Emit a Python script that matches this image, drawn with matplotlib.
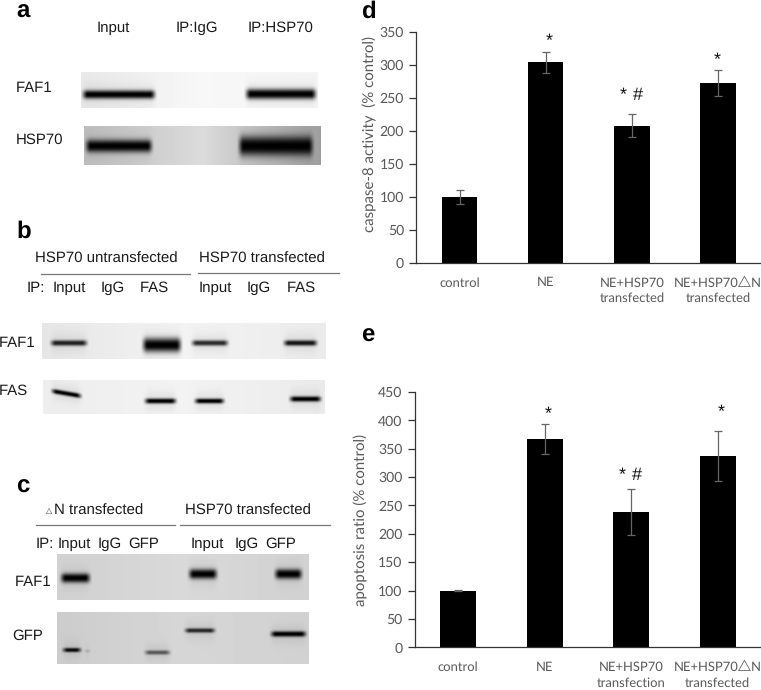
import numpy as np
import matplotlib
matplotlib.use("Agg")
import matplotlib.pyplot as plt

W, H = 761, 690

# bar data
categories_d = ["control", "NE", "NE+HSP70\ntransfected", "NE+HSP70△N\ntransfected"]
values_d = [100, 304, 208, 272]
errors_d = [10, 16, 17, 20]
categories_e = ["control", "NE", "NE+HSP70\ntransfection", "NE+HSP70△N\ntransfected"]
values_e = [100, 367, 239, 337]
errors_e = [0.5, 26.5, 40.5, 43.5]

# blots: (x0, x1, y0, y1, background stops, bands)
# band: (x0, x1, y centre, half height, darkness, tilt)
blots = [
    (81, 318, 72, 108, (0.91, 0.97, 0.96), [(80, 158, 94.5, 4.2, 1.0, 0), (243, 319, 94, 5.0, 1.0, 0)]),
    (84, 321, 126, 165, (0.74, 0.86, 0.62), [(83, 155, 146, 6.2, 1.0, 0), (236, 316, 146, 9.5, 1.0, 0)]),
    (42, 326, 323, 359, (0.90, 0.95, 0.92), [(48, 90, 343, 2.8, 0.85, 0), (140, 184, 345, 6.8, 1.0, 0),
                                             (189, 231, 343, 2.8, 0.8, 0), (281, 320, 343, 2.8, 0.9, 0)]),
    (43, 325, 380, 414, (0.93, 0.95, 0.92), [(49, 84, 393.5, 2.4, 1.0, 6), (142, 179, 401, 2.6, 1.0, 0),
                                             (192, 227, 401, 2.5, 1.0, 0), (287, 324, 399, 2.7, 1.0, 0)]),
    (57, 309, 554, 600, (0.82, 0.85, 0.82), [(58, 93, 578, 4.6, 1.0, 0), (186, 220, 574, 4.8, 1.0, 0),
                                             (272, 305, 574, 4.8, 1.0, 0)]),
    (57, 309, 612, 664, (0.80, 0.84, 0.82), [(60, 84, 650, 2.2, 0.95, 0), (83, 92, 651, 1.6, 0.4, 0),
                                             (142, 173, 652.5, 2.2, 0.55, 0), (182, 218, 630.5, 2.3, 0.8, 0),
                                             (268, 309, 634, 2.8, 1.0, 0)]),
]

# (x, y, text, ha)
blot_labels = [
    (113, 28, "Input", "center"), (196.5, 28, "IP:IgG", "center"), (281, 28, "IP:HSP70", "center"),
    (16, 88, "FAF1", "left"), (16, 140, "HSP70", "left"),
    (106, 259, "HSP70 untransfected", "center"), (262, 259, "HSP70 transfected", "center"),
    (27, 288, "IP:", "left"), (69, 288, "Input", "center"), (112.5, 288, "IgG", "center"),
    (154, 288, "FAS", "center"), (215, 288, "Input", "center"), (259, 288, "IgG", "center"),
    (301, 288, "FAS", "center"), (-1, 343, "FAF1", "left"), (-1, 391, "FAS", "left"),
    (54, 511, "N transfected", "left"), (248, 511, "HSP70 transfected", "center"),
    (36, 544, "IP:", "left"), (74, 544, "Input", "center"), (110, 544, "IgG", "center"),
    (144, 544, "GFP", "center"), (207, 544, "Input", "center"), (247, 544, "IgG", "center"),
    (281, 544, "GFP", "center"), (15, 582, "FAF1", "left"), (12, 636, "GFP", "left"),
]
panel_letters = [(16, 18, "a"), (16, 238, "b"), (16, 492.5, "c"), (361, 18, "d"), (361, 342, "e")]
rules = [(41, 190, 273.7), (198, 339, 273), (36, 175, 525), (180, 330, 525)]
marks = [(549, 41, "*"), (623.5, 95, "*"), (638, 95, "#"), (717, 60, "*"),
         (548, 414, "*"), (622.5, 475, "*"), (636.5, 475, "#"), (721, 412, "*")]

plt.rcParams["font.family"] = ["Liberation Sans", "DejaVu Sans"]
plt.rcParams["text.hinting"] = "no_hinting"
plt.rcParams["text.hinting_factor"] = 1
fig = plt.figure(figsize=(W / 100, H / 100), dpi=100)

# overlay in pixel coordinates for the blots and text
pix = fig.add_axes([0, 0, 1, 1])
pix.set_xlim(0, W)
pix.set_ylim(H, 0)
pix.axis("off")


def smooth(t):
    t = np.clip(t, 0, 1)
    return t * t * (3 - 2 * t)


def draw_blot(x0, x1, y0, y1, stops, bands):
    xs = np.arange(x0, x1) + 0.5
    ys = np.arange(y0, y1) + 0.5
    X, Y = np.meshgrid(xs, ys)
    img = np.interp(X, [x0, (x0 + x1) / 2, x1], stops)
    for bx0, bx1, yc, hh, dark, tilt in bands:
        ramp = smooth((X - bx0) / 8) * smooth((bx1 - X) / 8)
        centre = yc + tilt * ((X - bx0) / (bx1 - bx0) - 0.5)
        across = np.exp(-np.abs((Y - centre) / hh) ** 2.4)
        halo = np.exp(-((Y - centre) / (hh + 7)) ** 2)
        img = img * (1 - 0.07 * ramp * halo)
        img = img * (1 - dark * ramp * across)
    pix.imshow(img, cmap="gray", vmin=0, vmax=1, extent=(x0, x1, y1, y0),
               interpolation="bicubic", aspect="auto", zorder=1)


for blot in blots:
    draw_blot(*blot)
pix.set_xlim(0, W)
pix.set_ylim(H, 0)

for x, y, txt, ha in blot_labels:
    pix.text(x, y, txt, ha=ha, va="center", fontsize=10.8, color="#1a1a1a", zorder=3)
pix.text(49, 511, "△", ha="center", va="center", fontsize=5.5, color="#333333",
         family=["DejaVu Sans"], zorder=3)
for x, y, txt in panel_letters:
    pix.text(x, y, txt, ha="left", va="baseline", fontsize=17.5, fontweight="bold", color="black", zorder=3)
for x0, x1, y in rules:
    pix.plot([x0, x1], [y, y], color="#777777", lw=0.9, zorder=2)


def bar_panel(left, top, bottom, values, errors, categories, ymax, step, ylabel, label_x, label_y):
    ax = fig.add_axes([left / W, 1 - bottom / H, (W - left) / W, (bottom - top) / H])
    ax.patch.set_alpha(0)
    x = np.arange(len(values))
    ax.bar(x, values, width=0.412, color="black", zorder=2)
    ax.errorbar(x, values, yerr=errors, fmt="none", ecolor="#666666", elinewidth=0.9,
                capsize=2.6, capthick=0.9, zorder=3)
    ax.set_xlim(-0.5, 3.5)
    ax.set_ylim(0, ymax)
    ax.set_yticks(np.arange(0, ymax + 1, step))
    ax.set_xticks(x)
    ax.set_xticklabels(categories, family=["Lato", "Noto Sans CJK SC", "DejaVu Sans"],
                       fontsize=9.5, color="#595959", linespacing=1.42)
    ax.tick_params(axis="x", length=0, pad=10)
    ax.tick_params(axis="y", length=5, width=0.9, color="#333333", pad=4, labelsize=10.2, labelcolor="#595959")
    for lab in ax.get_yticklabels():
        lab.set_family(["Lato", "DejaVu Sans"])
    ax.spines["top"].set_visible(False)
    ax.spines["right"].set_visible(False)
    ax.spines["left"].set_color("#333333")
    ax.spines["bottom"].set_color("#333333")
    ax.spines["left"].set_linewidth(0.9)
    ax.spines["bottom"].set_linewidth(0.9)
    pix.text(label_x, label_y, ylabel, rotation=90, ha="center", va="center", fontsize=10.6,
             color="#595959", family=["Lato", "DejaVu Sans"])
    return ax


bar_panel(416.5, 31.7, 263, values_d, errors_d, categories_d, 350, 50,
          "caspase-8 activity  (% control)", 370, 134)
bar_panel(415, 392, 647.3, values_e, errors_e, categories_e, 450, 50,
          "apoptosis ratio (% control)", 361, 520)

for x, y, txt in marks:
    pix.text(x, y, txt, ha="center", va="center", fontsize=13, color="#111111", zorder=5)

fig.savefig("out.png", dpi=100)
